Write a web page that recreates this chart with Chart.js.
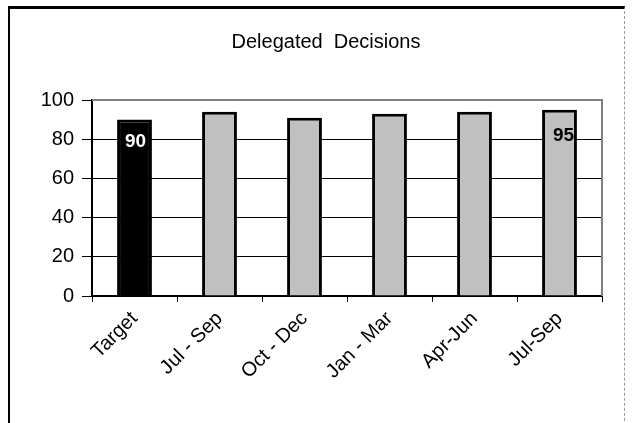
<!DOCTYPE html>
<html>
<head>
<meta charset="utf-8">
<script src="https://cdn.jsdelivr.net/npm/chart.js@4/dist/chart.umd.min.js"></script>
<style>
  html, body { margin: 0; padding: 0; background: #fff; }
  #wrap { position: relative; width: 632px; height: 423px; overflow: hidden; }
  #frame {
    position: absolute; left: 8px; top: 6px; width: 617px; height: 440px;
    border-top: 3px solid #000; border-left: 2px solid #000; border-right: 1px dashed #999;
    box-sizing: border-box; pointer-events: none;
  }
  canvas { position: absolute; left: 0; top: 0; }
</style>
</head>
<body>
<div id="wrap">
  <canvas id="chart" width="632" height="423"></canvas>
  <div id="frame"></div>
</div>
<script>
// Chart data
const chartTitle = 'Delegated  Decisions';
const categories = ['Target', 'Jul - Sep', 'Oct - Dec', 'Jan - Mar', 'Apr-Jun', 'Jul-Sep'];
const values = [90, 94, 91, 93, 94, 95];
const yTicks = [0, 20, 40, 60, 80, 100];
const labelledBars = [0, 5];

const FONT = '"Liberation Sans", Arial, sans-serif';

/**
 * Chart title, centred on the whole frame rather than the plot
 */
const frameTitle = {
  id: 'frameTitle',
  afterDraw(chart) {
    const { ctx } = chart;
    ctx.save();
    ctx.font = '20px ' + FONT;
    ctx.fillStyle = '#000';
    ctx.textAlign = 'center';
    ctx.textBaseline = 'middle';
    ctx.fillText(chartTitle, 326, 42);
    ctx.restore();
  }
};

/**
 * Draws the gray top/right border of the plot area
 */
const plotBorder = {
  id: 'plotBorder',
  afterDatasetsDraw(chart) {
    const { ctx, chartArea: a } = chart;
    ctx.save();
    ctx.strokeStyle = '#808080';
    ctx.lineWidth = 2;
    ctx.beginPath();
    ctx.moveTo(a.left, a.top);
    ctx.lineTo(a.right, a.top);
    ctx.lineTo(a.right, a.bottom);
    ctx.stroke();
    ctx.restore();
  }
};

/**
 * Value labels inside the first and last bar
 */
const valueLabels = {
  id: 'valueLabels',
  afterDatasetsDraw(chart) {
    const { ctx } = chart;
    const meta = chart.getDatasetMeta(0);
    ctx.save();
    ctx.font = 'bold 19px ' + FONT;
    ctx.textAlign = 'center';
    ctx.textBaseline = 'middle';
    labelledBars.forEach(i => {
      const bar = meta.data[i];
      ctx.fillStyle = i === 0 ? '#fff' : '#000';
      ctx.fillText(String(values[i]), bar.x + (i === 0 ? 1 : 4), bar.y + (i === 0 ? 22 : 26));
    });
    ctx.restore();
  }
};

const ctx = document.getElementById('chart');
new Chart(ctx, {
  type: 'bar',
  data: {
    labels: categories,
    datasets: [{
      data: values,
      backgroundColor: values.map((v, i) => i === 0 ? '#000000' : '#c0c0c0'),
      borderColor: '#000000',
      borderWidth: 3,
      borderSkipped: 'bottom',
      categoryPercentage: 1,
      barPercentage: 0.41
    }]
  },
  options: {
    responsive: false,
    animation: false,
    layout: { padding: { left: 0, right: 30, top: 100, bottom: 0 } },
    plugins: {
      legend: { display: false },
      tooltip: { enabled: false },
      title: { display: false }
    },
    scales: {
      x: {
        offset: true,
        afterFit(scale) { scale.height = 127; },
        grid: {
          offset: true,
          drawOnChartArea: false,
          color: '#000',
          tickLength: 6,
          tickWidth: 1
        },
        border: { color: '#000', width: 2 },
        ticks: {
          color: '#000',
          font: { family: FONT, size: 20 },
          minRotation: 45,
          maxRotation: 45,
          autoSkip: false,
          padding: 5
        }
      },
      y: {
        min: 0,
        max: 100,
        afterFit(scale) { scale.width = 92; },
        afterBuildTicks(scale) { scale.ticks = yTicks.map(v => ({ value: v })); },
        grid: {
          color: ctx => ctx.tick && ctx.tick.value === 100 ? '#808080' : '#000',
          lineWidth: 1,
          tickLength: 10,
          tickColor: '#000'
        },
        border: { color: '#000', width: 2 },
        ticks: {
          color: '#000',
          font: { family: FONT, size: 20 },
          padding: 8
        }
      }
    }
  },
  plugins: [plotBorder, valueLabels, frameTitle]
});
</script>
</body>
</html>
